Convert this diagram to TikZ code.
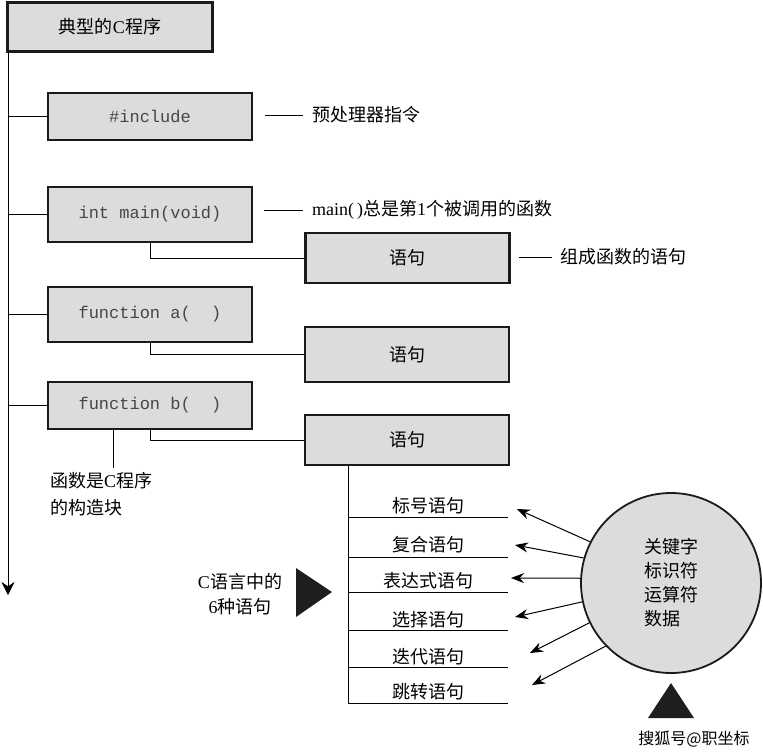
\documentclass[tikz,border=0pt]{standalone}
\usepackage{fontspec}
\setmainfont{Liberation Serif}
\setmonofont{Liberation Mono}
\newfontfamily\cjk{Noto Sans CJK SC}
\usetikzlibrary{arrows.meta,positioning,shapes.geometric,calc}
\definecolor{boxgray}{RGB}{220,220,220}
\definecolor{boxedge}{RGB}{26,26,26}
\definecolor{codegray}{RGB}{70,70,70}
\definecolor{markdark}{RGB}{30,30,30}
\newcommand{\zh}[1]{{\cjk #1}}

\begin{document}
\begin{tikzpicture}[x=1pt,y=-1pt,font=\fontsize{18}{22}\selectfont,
    fnbox/.style={draw=boxedge,line width=2.5pt,fill=boxgray,inner sep=0pt,
      minimum width=204pt,minimum height=50pt,font=\ttfamily\fontsize{17}{20}\selectfont,text=codegray},
    stmtbox/.style={fnbox,font=\cjk\fontsize{18}{22}\selectfont,text=black},
    note/.style={inner sep=0pt,anchor=west},
    stmt/.style={inner sep=0pt,font=\cjk\fontsize{18}{22}\selectfont},
    link/.style={line width=1pt},
    tokarrow/.style={line width=1pt,-{Stealth[length=13pt,width=10pt]}}]
  \useasboundingbox (0,0) rectangle (763,753);
  % program skeleton
  \node[fnbox,minimum width=205pt,minimum height=49pt,text=black,
        font=\fontsize{18}{22}\selectfont] (title) at (110,27) {\zh{典型的}C\zh{程序}};
  \node[fnbox,minimum height=47pt] (inc) at (150,116.5) {\#include};
  \node[fnbox,minimum height=55pt] (mainf) at (150,214.5) {int main(void)};
  \node[fnbox,minimum height=55pt] (fa) at (150,314.5) {function a(\ \ )};
  \node[fnbox,minimum height=47pt] (fb) at (150,405.5) {function b(\ \ )};
  \node[stmtbox] (st1) at (407.5,258) {语句};
  \node[stmtbox,minimum height=55pt] (st2) at (407,354.5) {语句};
  \node[stmtbox] (st3) at (407,440) {语句};
  \coordinate (spineend) at (8,595);
  \draw[line width=1pt,-{Stealth[length=13pt,width=13pt]}] (title.south -| spineend) -- (spineend);
  \foreach \f in {inc,mainf,fa,fb}
    \draw[link] (\f.west -| spineend) -- (\f.west);
  \draw[link] (mainf.south) |- (st1.west);
  \draw[link] (fa.south) |- (st2.west);
  \draw[link] (fb.south) |- (st3.west);
  % callouts
  \node[note] (ppnote) at (312,115) {\zh{预处理器指令}};
  \draw[link] ([xshift=12pt]inc.east |- ppnote.west) -- ([xshift=-9pt]ppnote.west);
  \node[note] (mnote) at (312,210) {main(\,)\zh{总是第}1\zh{个被调用的函数}};
  \draw[link] ([xshift=11pt]mainf.east |- mnote.west) -- ([xshift=-9pt]mnote.west);
  \node[note] (snote) at (560,257) {\zh{组成函数的语句}};
  \draw[link] ([xshift=8pt]st1.east |- snote.west) -- ([xshift=-8pt]snote.west);
  \coordinate (notetop) at (113,468);
  \node[note,anchor=north west,align=left,font=\fontsize{18}{27}\selectfont] (blocknote) at (50,472)
    {\zh{函数是}C\zh{程序}\\\zh{的构造块}};
  \draw[link] (fb.south -| notetop) -- (notetop);
  % the six kinds of statement
  \coordinate (listtop) at (348,465);
  \coordinate (listbot) at (348,703);
  \coordinate (listright) at (508,0);
  \draw[link] (listtop) -- (listbot);
  \foreach \txt/\ty/\ly [count=\i] in {标号语句/506/517,复合语句/545/557,表达式语句/581/592,
      选择语句/620/630,迭代语句/657/667,跳转语句/692/703} {
    \node[stmt] (s\i) at (428,\ty) {\txt};
    \coordinate (u\i) at (348,\ly);
    \draw[link] (u\i) -- (u\i -| listright);
  }
  \node[align=center,inner sep=0pt,font=\fontsize{18}{25}\selectfont] (kinds) at (240,594)
    {C\zh{语言中的}\\6\zh{种语句}};
  \fill[markdark] (296,568) -- (332,592) -- (296,617) -- cycle;
  % tokens
  \node[circle,draw=boxedge,line width=1.8pt,fill=boxgray,minimum size=180pt,
        align=left,font=\cjk\fontsize{18}{24}\selectfont] (tokens) at (671,583)
    {关键字\\标识符\\运算符\\数据};
  \foreach \ang/\tx/\ty [count=\i] in {153/517/509,164/515/545,177/511/578,
      192/515/617,206/530/653,224/532/685} {
    \coordinate (a\i) at (\tx,\ty);
    \draw[tokarrow] (tokens.\ang) -- (a\i);
  }
  \fill[markdark] (648,718) -- (671,683) -- (694,718) -- cycle;
  \node[stmt,font=\cjk\fontsize{16}{18}\selectfont] (mark) at (694,739) {搜狐号@职坐标};
\end{tikzpicture}
\end{document}
